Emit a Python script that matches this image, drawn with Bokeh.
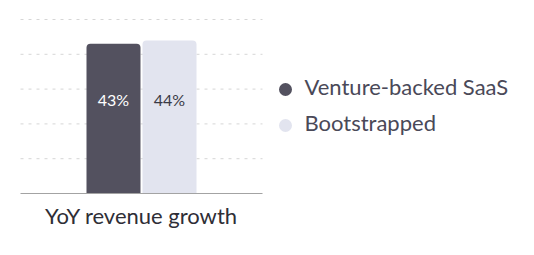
from bokeh.plotting import figure
from bokeh.models import ColumnDataSource, Range1d
from bokeh.core.properties import value
from bokeh.embed import file_html
from bokeh.resources import INLINE

categories = ["YoY revenue growth"]
series = ["Venture-backed SaaS", "Bootstrapped"]
venture_values = [43]
bootstrapped_values = [44]
venture_labels = ["43%"]
bootstrapped_labels = ["44%"]
y_ticks = [0, 10, 20, 30, 40, 50]

colors = ["#53515f", "#e2e4ef"]
label_colors = ["#ffffff", "#3a3a46"]
FONT = "Lato"

# ---- layout constants (pixels) ----
W, H = 534, 255
PLOT_L, PLOT_R = 20, 262
BASE_PX, TOP_PX = 193, 19          # y pixel of value 0 and of top tick
PX_PER_UNIT = (BASE_PX - TOP_PX) / (y_ticks[-1] - y_ticks[0])
CAT_CENTER = 141
BAR_W = 54
BAR_STEP = 56


def py(px):
    """pixel row (from top) -> data y"""
    return (BASE_PX - px) / PX_PER_UNIT


p = figure(width=W, height=H, x_range=Range1d(0, W), y_range=Range1d(py(H), py(0)),
           output_backend="svg", toolbar_location=None,
           min_border_left=0, min_border_right=0, min_border_top=0, min_border_bottom=0)
p.outline_line_color = None
p.background_fill_color = None
p.border_fill_color = "white"
p.axis.visible = False
p.grid.visible = False

# gridlines
grid = y_ticks[1:]
p.segment(x0=[PLOT_L] * len(grid), x1=[PLOT_R] * len(grid), y0=grid, y1=grid,
          line_color="#d6d6d6", line_width=1, line_dash="3 5")

# bars
n = len(categories)
cat_x = [CAT_CENTER + i * (PLOT_R - PLOT_L) for i in range(n)]
for k, (vals, labs) in enumerate([(venture_values, venture_labels),
                                   (bootstrapped_values, bootstrapped_labels)]):
    xs = [c + (k - 0.5) * BAR_STEP for c in cat_x]
    src = ColumnDataSource(dict(x=xs, top=vals, lab=labs, ly=[py(99)] * n))
    p.vbar(x="x", top="top", width=BAR_W, source=src, fill_color=colors[k],
           line_color=None, border_radius=(4, 4, 0, 0))
    p.text(x="x", y="ly", text="lab", source=src, text_align="center",
           text_baseline="alphabetic", text_color=label_colors[k],
           text_font=value(FONT), text_font_size="16px")

# baseline (x axis)
p.segment(x0=[PLOT_L], x1=[PLOT_R], y0=[0], y1=[0], line_color="#a3a3a3", line_width=1)

# category labels
p.text(x=cat_x, y=[py(215)] * n, text=categories, text_align="center",
       text_baseline="alphabetic", text_color="#2e2e36",
       text_font=value(FONT), text_font_size="22px")

# legend
leg_px = [89, 125]
p.scatter(x=[285] * len(series), y=[py(v) for v in leg_px], marker="circle", size=13,
          fill_color=colors, line_color=None)
p.text(x=[304] * len(series), y=[py(v - 3) for v in leg_px], text=series,
       text_align="left", text_baseline="alphabetic", text_color="#4a4958",
       text_font=value(FONT), text_font_size="22px")

open("out.html", "w").write(file_html(p, INLINE))
